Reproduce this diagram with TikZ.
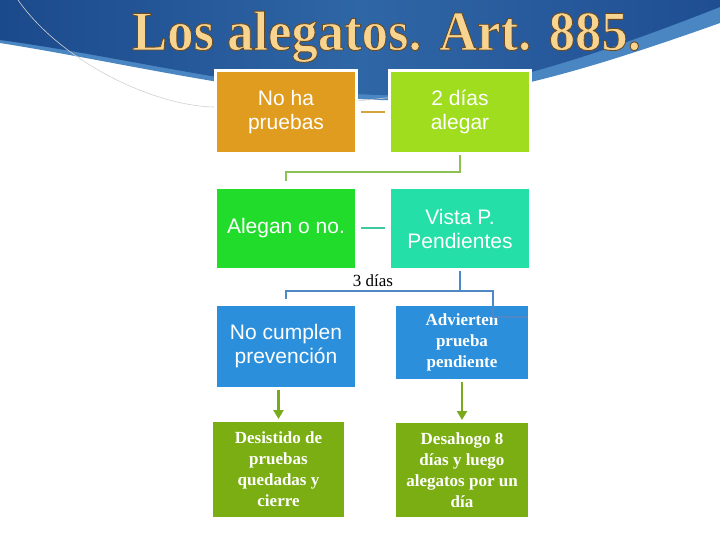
\documentclass[tikz,border=0pt]{standalone}
\usepackage{fontspec}
\setmainfont{Liberation Serif}
\newfontfamily\arialf{Liberation Sans}
\usetikzlibrary{arrows.meta,calc}
\definecolor{navyA}{HTML}{1B4A8B}
\definecolor{navyB}{HTML}{2F66A6}
\definecolor{navyC}{HTML}{1F4E92}
\definecolor{bandblue}{HTML}{4A86C2}
\definecolor{titletan}{HTML}{F7D490}
\definecolor{cOrange}{HTML}{E09C1F}
\definecolor{cLime}{HTML}{9FDD1E}
\definecolor{cGreen}{HTML}{22DC2C}
\definecolor{cTeal}{HTML}{25DFA8}
\definecolor{cBlue}{HTML}{2B8FDB}
\definecolor{cOlive}{HTML}{7BAE12}
\definecolor{lTan}{HTML}{D6A43C}
\definecolor{lGreen}{HTML}{8CC254}
\definecolor{lTeal}{HTML}{3CC9A0}
\definecolor{lBlue}{HTML}{4F88C6}
\definecolor{lArrow}{HTML}{78AA1C}
\newcommand{\outlinedtext}[1]{\special{pdf:literal direct 2 Tr 0.9 w 0.42 0.29 0.12 RG}#1\special{pdf:literal direct 0 Tr}}
\tikzset{
  box/.style={draw=white, line width=3pt, text=white, align=center, inner sep=2pt},
  sansbox/.style={box, font=\arialf\fontsize{21}{24}\selectfont},
  serifbox/.style={box, font=\bfseries\fontsize{17}{21}\selectfont, text=white},
  link/.style={line width=2pt},
  greenarrow/.style={draw=lArrow, line width=2.5pt, -{Triangle[width=10pt,length=9pt]}},
  titlefont/.style={font=\bfseries\fontsize{56}{60}\selectfont, inner sep=0pt, anchor=base, xscale=0.94}
}
\begin{document}
\begin{tikzpicture}[x=1pt,y=-1pt]
\useasboundingbox (0,0) rectangle (720,540);
\fill[white] (0,0) rectangle (720,540);
% header swoosh: light band
\fill[bandblue] (0,0) -- (0,43) .. controls (120,62) and (260,96) .. (380,100)
   .. controls (470,102) and (560,80) .. (720,23) -- (720,0) -- cycle;
% dark blue
\shade[left color=navyA, right color=navyC, middle color=navyB]
   (0,0) -- (0,40) .. controls (120,56) and (260,92) .. (380,95)
   .. controls (470,96) and (580,62) .. (720,7) -- (720,0) -- cycle;
% thin grey curve
\draw[black!18, line width=0.6pt] (18,0) .. controls (60,60) and (150,105) .. (213,107)
   .. controls (290,108) and (350,102) .. (395,97);
% title
\node[titlefont, text=titletan] (title) at (386.5,50) {\outlinedtext{Los alegatos. Art. 885.}};
% boxes
\node[sansbox, fill=cOrange, minimum width=141pt, minimum height=83pt] (b1) at (286,112) {No ha\\pruebas};
\node[sansbox, fill=cLime, minimum width=141pt, minimum height=83pt] (b2) at (460,112) {2 días\\alegar};
\node[sansbox, fill=cGreen, minimum width=141pt, minimum height=82pt] (b3) at (286,228.5) {Alegan o no.};
\node[sansbox, fill=cTeal, minimum width=141pt, minimum height=82pt] (b4) at (460,228.5) {Vista P.\\Pendientes};
\node[sansbox, fill=cBlue, minimum width=141pt, minimum height=84pt] (b5) at (286,346.5) {No cumplen\\prevención};
\node[serifbox, fill=cBlue, minimum width=135pt, minimum height=76pt] (b6) at (462,342.5) {Advierten\\prueba\\pendiente};
\node[serifbox, fill=cOlive, minimum width=134pt, minimum height=98pt] (b7) at (278.5,469.5) {Desistido de\\pruebas\\quedadas y\\cierre};
\node[serifbox, fill=cOlive, minimum width=135pt, minimum height=97pt] (b8) at (462,470) {Desahogo 8\\días y luego\\alegatos por un\\día};
% connectors
\draw[link, draw=lTan, shorten <=3pt, shorten >=3pt] (b1.east) -- (b2.west);
\draw[link, draw=lGreen, shorten >=5pt] (b2.south) -- ++(0,17) -| (b3.north);
\draw[link, draw=lTeal, shorten <=3pt, shorten >=3pt] (b3.east) -- (b4.west);
\coordinate (bj) at ($(b4.south)+(0,20)$);
\coordinate (bk) at (493,317);
\coordinate (bend) at (528,317);
\draw[link, draw=lBlue, shorten >=4pt] (b4.south) -- (bj) -| (b5.north);
\draw[link, draw=lBlue] (bj) -| (bk) -- (bend);
\node[font=\fontsize{17}{20}\selectfont, inner sep=0pt, anchor=base] (lbl) at (373,286) {3 días};
\draw[greenarrow] (b5.south -| b7.north) -- (b7.north);
\draw[greenarrow] (b6.south) -- (b8.north);
\end{tikzpicture}
\end{document}
